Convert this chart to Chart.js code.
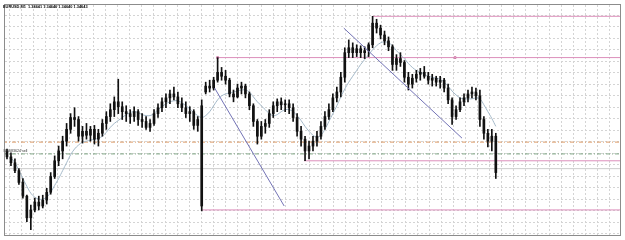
<!DOCTYPE html>
<html>
<head>
<meta charset="utf-8">
<script src="https://cdn.jsdelivr.net/npm/chart.js@4.4.1/dist/chart.umd.min.js"></script>
<style>
html,body{margin:0;padding:0;background:#fff;}
canvas{display:block;}
</style>
</head>
<body>
<canvas id="c" width="625" height="240"></canvas>
<script>
// ---- data (EURUSD M1) ----
const headerText = 'EURUSD,M1  1.34641 1.34646 1.34640 1.34643';
const orderLabel = '#80083624 sell';

const highs = [1.34752,1.34748,1.34742,1.34732,1.34722,1.34705,1.34695,1.34702,1.34704,1.34705,
1.34712,1.34728,1.34745,1.34755,1.34765,1.34778,1.34788,1.34794,1.34785,1.34775,
1.34778,1.34775,1.34776,1.34772,1.34782,1.34790,1.34798,1.34805,1.34823,1.34800,
1.34796,1.34792,1.34795,1.34792,1.34788,1.34785,1.34782,1.34792,1.34798,1.34804,
1.34808,1.34812,1.34815,1.34810,1.34804,1.34800,1.34795,1.34792,1.34785,1.34802,
1.34820,1.34822,1.34825,1.34845,1.34835,1.34832,1.34824,1.34812,1.34818,1.34820,
1.34818,1.34810,1.34798,1.34782,1.34780,1.34782,1.34792,1.34800,1.34803,1.34804,
1.34802,1.34802,1.34798,1.34788,1.34775,1.34765,1.34760,1.34765,1.34770,1.34780,
1.34790,1.34798,1.34808,1.34815,1.34830,1.34855,1.34863,1.34860,1.34858,1.34857,
1.34856,1.34860,1.34887,1.34884,1.34878,1.34872,1.34866,1.34858,1.34848,1.34850,
1.34842,1.34830,1.34828,1.34832,1.34834,1.34836,1.34830,1.34828,1.34826,1.34826,
1.34824,1.34818,1.34804,1.34796,1.34804,1.34808,1.34812,1.34815,1.34814,1.34812,
1.34785,1.34772,1.34772,1.34768];

const lows = [1.34742,1.34735,1.34728,1.34716,1.34702,1.34678,1.34670,1.34688,1.34690,1.34692,
1.34696,1.34706,1.34722,1.34735,1.34742,1.34755,1.34768,1.34775,1.34760,1.34758,
1.34762,1.34760,1.34757,1.34755,1.34765,1.34772,1.34780,1.34785,1.34788,1.34782,
1.34780,1.34778,1.34780,1.34776,1.34774,1.34772,1.34770,1.34776,1.34784,1.34790,
1.34794,1.34798,1.34802,1.34794,1.34790,1.34784,1.34780,1.34772,1.34770,1.34689,
1.34808,1.34810,1.34812,1.34820,1.34822,1.34818,1.34805,1.34800,1.34804,1.34808,
1.34804,1.34792,1.34775,1.34757,1.34762,1.34768,1.34774,1.34784,1.34790,1.34792,
1.34790,1.34788,1.34780,1.34765,1.34755,1.34740,1.34742,1.34750,1.34755,1.34762,
1.34772,1.34782,1.34790,1.34800,1.34805,1.34820,1.34845,1.34845,1.34846,1.34845,
1.34844,1.34846,1.34855,1.34870,1.34864,1.34858,1.34852,1.34832,1.34832,1.34836,
1.34820,1.34812,1.34814,1.34820,1.34822,1.34824,1.34818,1.34816,1.34816,1.34814,
1.34810,1.34798,1.34777,1.34782,1.34790,1.34796,1.34800,1.34804,1.34802,1.34775,
1.34762,1.34754,1.34750,1.34722];

const opens = [1.34750,1.34744,1.34738,1.34730,1.34718,1.34704,1.34682,1.34690,1.34698,1.34694,
1.34700,1.34708,1.34724,1.34740,1.34750,1.34760,1.34772,1.34784,1.34782,1.34765,
1.34770,1.34766,1.34772,1.34762,1.34768,1.34778,1.34785,1.34792,1.34800,1.34795,
1.34790,1.34788,1.34785,1.34790,1.34782,1.34780,1.34774,1.34778,1.34788,1.34794,
1.34800,1.34804,1.34808,1.34805,1.34798,1.34794,1.34788,1.34790,1.34776,1.34796,
1.34810,1.34816,1.34814,1.34822,1.34830,1.34826,1.34822,1.34808,1.34805,1.34814,
1.34816,1.34808,1.34796,1.34780,1.34765,1.34775,1.34778,1.34788,1.34796,1.34800,
1.34797,1.34798,1.34794,1.34784,1.34770,1.34762,1.34750,1.34755,1.34760,1.34765,
1.34775,1.34785,1.34792,1.34804,1.34810,1.34825,1.34850,1.34855,1.34850,1.34854,
1.34850,1.34852,1.34858,1.34880,1.34875,1.34868,1.34862,1.34856,1.34838,1.34844,
1.34840,1.34825,1.34818,1.34824,1.34828,1.34830,1.34826,1.34822,1.34824,1.34820,
1.34822,1.34814,1.34802,1.34785,1.34792,1.34800,1.34804,1.34808,1.34810,1.34806,
1.34782,1.34768,1.34760,1.34765];

const closes = [1.34744,1.34738,1.34730,1.34718,1.34704,1.34682,1.34690,1.34698,1.34694,1.34700,
1.34708,1.34724,1.34740,1.34750,1.34760,1.34772,1.34784,1.34782,1.34765,1.34770,
1.34766,1.34772,1.34762,1.34768,1.34778,1.34785,1.34792,1.34800,1.34795,1.34790,
1.34788,1.34785,1.34790,1.34782,1.34780,1.34774,1.34778,1.34788,1.34794,1.34800,
1.34804,1.34808,1.34805,1.34798,1.34794,1.34788,1.34790,1.34776,1.34782,1.34694,
1.34816,1.34814,1.34822,1.34830,1.34826,1.34822,1.34808,1.34805,1.34814,1.34816,
1.34808,1.34796,1.34780,1.34765,1.34775,1.34778,1.34788,1.34796,1.34800,1.34797,
1.34798,1.34794,1.34784,1.34770,1.34762,1.34750,1.34755,1.34760,1.34765,1.34775,
1.34785,1.34792,1.34804,1.34810,1.34825,1.34850,1.34855,1.34850,1.34854,1.34850,
1.34852,1.34858,1.34880,1.34875,1.34868,1.34862,1.34856,1.34838,1.34844,1.34840,
1.34825,1.34818,1.34824,1.34828,1.34830,1.34826,1.34822,1.34824,1.34820,1.34822,
1.34814,1.34802,1.34785,1.34792,1.34800,1.34804,1.34808,1.34810,1.34806,1.34782,
1.34768,1.34760,1.34765,1.34728];

const movingAvg = [null,1.34743,1.34738,1.34730,1.34722,1.34714,1.34707,1.34703,1.34701,1.34701,
1.34703,1.34708,1.34715,1.34722,1.34730,1.34738,1.34746,1.34752,1.34756,1.34759,
1.34760,1.34761,1.34762,1.34763,1.34765,1.34769,1.34774,1.34778,1.34781,1.34784,
1.34787,1.34789,1.34790,1.34789,1.34787,1.34786,1.34786,1.34788,1.34792,1.34795,
1.34798,1.34800,1.34801,1.34801,1.34799,1.34796,1.34793,1.34789,1.34786,1.34784,
1.34786,1.34790,1.34796,1.34802,1.34806,1.34808,1.34809,1.34810,1.34811,1.34812,
1.34812,1.34810,1.34805,1.34800,1.34796,1.34792,1.34788,1.34786,1.34787,1.34790,
1.34792,1.34792,1.34790,1.34786,1.34781,1.34775,1.34770,1.34766,1.34764,1.34766,
1.34772,1.34780,1.34788,1.34796,1.34805,1.34813,1.34820,1.34826,1.34832,1.34838,
1.34843,1.34848,1.34853,1.34857,1.34860,1.34861,1.34860,1.34857,1.34852,1.34848,
1.34844,1.34839,1.34835,1.34832,1.34830,1.34828,1.34826,1.34825,1.34824,1.34823,
1.34820,1.34816,1.34811,1.34807,1.34804,1.34803,1.34803,1.34803,1.34804,1.34803,
1.34797,1.34790,1.34783,1.34775];

// horizontal levels: price and first bar they are drawn from
const levelPrices = [1.34887, 1.34845, 1.34759, 1.34747, 1.34740, 1.34732, 1.34690];
const levelStartBar = [92, 53, -1, -1, 74.75, -1, 49];
const levelKinds = ['pink', 'pink', 'orange', 'green', 'pink', 'gray', 'pink'];

// level markers
const markerBars = [53, 112.75];
const markerPrices = [1.34845, 1.34845];

// trend lines (bar position, price)
const trend1Bars = [52.25, 69.75];
const trend1Prices = [1.34814, 1.34694];
const trend2Bars = [84.75, 114.5];
const trend2Prices = [1.34875, 1.34763];

// ---- build chart ----
const X_MIN = -0.5, X_MAX = 154.25;
const Y_MIN = 1.346645, Y_MAX = 1.348985;
const idx = highs.map((_, i) => i);
const wickData = idx.map(i => ({x: i, y: [lows[i], highs[i]]}));
const bodyData = idx.map(i => ({x: i, y: [opens[i], closes[i]]}));
const maData = idx.map(i => ({x: i, y: movingAvg[i]}));

const kindStyle = {
  pink:   {color: '#dc8fbb', dash: []},
  orange: {color: '#dd9a66', dash: [4, 2, 1, 2]},
  green:  {color: '#80a686', dash: [4, 2, 1, 2]},
  gray:   {color: '#cdcdcd', dash: []}
};

const levelSets = levelPrices.map((p, k) => {
  const st = kindStyle[levelKinds[k]];
  return {
    type: 'line',
    data: [{x: levelStartBar[k], y: p}, {x: X_MAX + 2, y: p}],
    borderColor: st.color,
    borderDash: st.dash,
    borderWidth: 1,
    pointRadius: 0,
    order: 10
  };
});

const datasets = [
  ...levelSets,
  {
    type: 'scatter',
    data: markerBars.map((b, i) => ({x: b, y: markerPrices[i]})),
    pointStyle: 'rect', pointRadius: 1.3,
    borderColor: '#d07aa8', backgroundColor: '#f4d6e6', borderWidth: 1,
    order: 9
  },
  {
    type: 'line', data: maData,
    borderColor: '#a3b8c8', borderWidth: 1, pointRadius: 0,
    tension: 0.4, spanGaps: true, order: 8
  },
  {
    type: 'bar', data: wickData,
    backgroundColor: '#111', borderWidth: 0,
    barThickness: 1, grouped: false, order: 6
  },
  {
    type: 'bar', data: bodyData,
    backgroundColor: '#111', borderWidth: 0,
    barThickness: 2, grouped: false, minBarLength: 1, order: 5
  },
  {
    type: 'line',
    data: trend1Bars.map((b, i) => ({x: b, y: trend1Prices[i]})),
    borderColor: '#7373b5', borderWidth: 1, pointRadius: 0, order: 1
  },
  {
    type: 'line',
    data: trend2Bars.map((b, i) => ({x: b, y: trend2Prices[i]})),
    borderColor: '#7373b5', borderWidth: 1, pointRadius: 0, order: 1
  }
];

const framePlugin = {
  id: 'frame',
  afterDraw(chart) {
    const {ctx, chartArea: a} = chart;
    ctx.save();
    ctx.strokeStyle = '#8c8c8c';
    ctx.lineWidth = 1;
    ctx.strokeRect(a.left - 0.5, a.top - 0.5, a.right - a.left + 1, a.bottom - a.top + 1);
    ctx.fillStyle = '#000';
    ctx.font = 'bold 3.9px "Liberation Sans", Arial, sans-serif';
    ctx.textBaseline = 'middle';
    ctx.fillText(headerText, 3, 7);
    ctx.fillStyle = '#333';
    ctx.font = '3.6px "Liberation Sans", Arial, sans-serif';
    ctx.textBaseline = 'alphabetic';
    ctx.fillText(orderLabel, 3, 151.5);
    ctx.restore();
  }
};

new Chart(document.getElementById('c'), {
  data: {datasets},
  options: {
    responsive: false,
    animation: false,
    events: [],
    layout: {padding: {left: 2, top: 2, right: 4, bottom: 4}},
    plugins: {legend: {display: false}, tooltip: {enabled: false}, title: {display: false}},
    scales: {
      x: {
        type: 'linear', min: X_MIN, max: X_MAX, offset: false,
        ticks: {display: false},
        border: {display: false, dash: [2, 2]},
        grid: {color: '#d4d4d4', drawTicks: false, lineWidth: 1},
        afterBuildTicks: s => {
          const t = [];
          for (let v = 2.05; v < X_MAX; v += 3.02) t.push({value: v});
          s.ticks = t;
        }
      },
      y: {
        type: 'linear', min: Y_MIN, max: Y_MAX,
        ticks: {display: false},
        border: {display: false, dash: [2, 2]},
        grid: {color: '#d4d4d4', drawTicks: false, lineWidth: 1},
        afterBuildTicks: s => {
          const t = [];
          for (let k = 1; k <= 20; k++) t.push({value: 1.34900 - 0.000117 * k});
          s.ticks = t;
        }
      }
    }
  },
  plugins: [framePlugin]
});
</script>
</body>
</html>
